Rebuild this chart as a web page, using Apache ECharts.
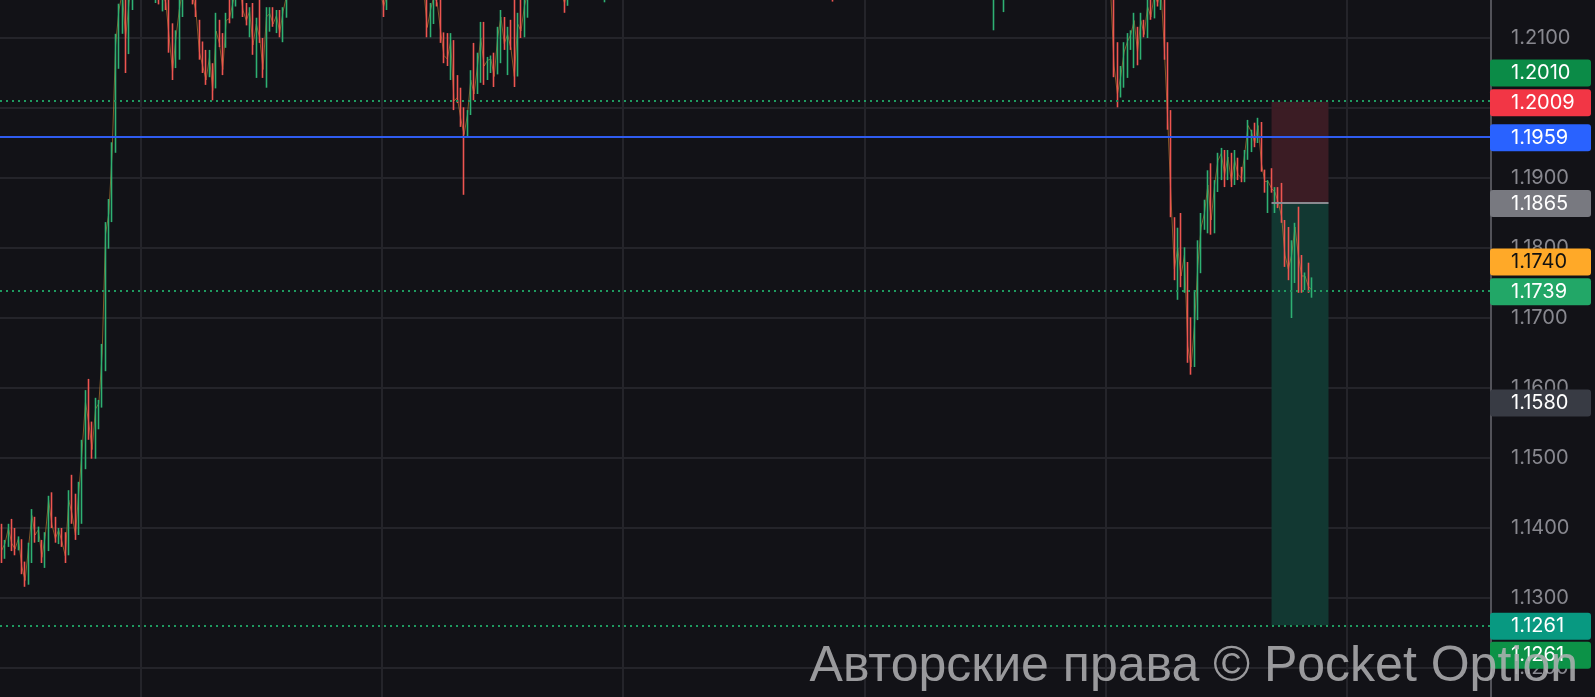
<!DOCTYPE html>
<html>
<head>
<meta charset="utf-8">
<title>EUR/USD</title>
<script src="https://cdn.jsdelivr.net/npm/echarts@6/dist/echarts.min.js"></script>
<style>
  html, body { margin: 0; padding: 0; background: #121217; overflow: hidden; width: 1595px; height: 697px; }
  /* the price frame runs from 1.2200 to 1.1100; the window shows the part between about 1.2154 and 1.1159 */
  #chart { position: absolute; left: 0; top: -32px; width: 1595px; height: 770px; }
</style>
</head>
<body>
<div id="chart"></div>
<script>
// Candles are [open, close, low, high]

// climb out of the 1.13-1.14 range
const climb = [
  [1.1398,1.1368,1.1350,1.1406],[1.1360,1.1378,1.1356,1.1383],[1.1375,1.1400,1.1373,1.1406],[1.1405,1.1378,1.1367,1.1413],
  [1.1392,1.1370,1.1361,1.1400],[1.1372,1.1385,1.1368,1.1388],[1.1380,1.1345,1.1334,1.1384],[1.1348,1.1325,1.1316,1.1352],
  [1.1327,1.1372,1.1319,1.1379],[1.1370,1.1418,1.1350,1.1427],[1.1415,1.1390,1.1379,1.1416],[1.1388,1.1398,1.1380,1.1402],
  [1.1380,1.1358,1.1350,1.1383],[1.1360,1.1388,1.1343,1.1394],[1.1386,1.1440,1.1367,1.1446],[1.1442,1.1405,1.1400,1.1451],
  [1.1408,1.1385,1.1379,1.1416],[1.1385,1.1397,1.1377,1.1400],[1.1396,1.1380,1.1373,1.1400],[1.1382,1.1360,1.1350,1.1394],
  [1.1362,1.1440,1.1361,1.1454],[1.1445,1.1420,1.1406,1.1476],[1.1422,1.1390,1.1383,1.1449],[1.1392,1.1450,1.1390,1.1466],
  [1.1448,1.1510,1.1406,1.1526],[1.1508,1.1580,1.1484,1.1597],[1.1582,1.1550,1.1526,1.1613],[1.1548,1.1512,1.1499,1.1552],
  [1.1512,1.1570,1.1499,1.1586],[1.1568,1.1578,1.1541,1.1583],[1.1576,1.1650,1.1572,1.1663],[1.1648,1.1820,1.1624,1.1837],
  [1.1818,1.1850,1.1799,1.1870],[1.1848,1.1940,1.1837,1.1951],[1.1938,1.2090,1.1936,1.2106],[1.2088,1.2140,1.2056,1.2149],
  [1.2138,1.2165,1.2106,1.2180],[1.2160,1.2100,1.2050,1.2175],[1.2100,1.2150,1.2077,1.2172]
];

// first stay above 1.20
const firstHigh = [
  [1.2150,1.2185,1.2140,1.2195],[1.2185,1.2170,1.2160,1.2200],[1.2172,1.2190,1.2158,1.2205],[1.2188,1.2175,1.2165,1.2198],
  [1.2176,1.2168,1.2158,1.2190],[1.2168,1.2182,1.2160,1.2192],[1.2180,1.2165,1.2156,1.2188],[1.2160,1.2172,1.2150,1.2180],
  [1.2170,1.2158,1.2148,1.2178],[1.2145,1.2165,1.2138,1.2175],[1.2162,1.2150,1.2140,1.2170],[1.2150,1.2100,1.2079,1.2158],
  [1.2115,1.2052,1.2040,1.2121],[1.2060,1.2100,1.2057,1.2111],[1.2098,1.2140,1.2069,1.2160],[1.2140,1.2168,1.2130,1.2180],
  [1.2166,1.2180,1.2158,1.2195],[1.2178,1.2170,1.2160,1.2190],[1.2170,1.2160,1.2148,1.2182],[1.2158,1.2138,1.2130,1.2165],
  [1.2124,1.2080,1.2069,1.2126],[1.2082,1.2060,1.2050,1.2095],[1.2072,1.2040,1.2033,1.2083],[1.2045,1.2072,1.2044,1.2083],
  [1.2062,1.2025,1.2011,1.2064],[1.2030,1.2110,1.2028,1.2136],[1.2118,1.2092,1.2087,1.2126],[1.2095,1.2055,1.2047,1.2107],
  [1.2090,1.2125,1.2086,1.2136],[1.2140,1.2128,1.2121,1.2160],[1.2130,1.2150,1.2128,1.2170],[1.2150,1.2170,1.2145,1.2182],
  [1.2168,1.2178,1.2158,1.2190],[1.2176,1.2140,1.2130,1.2185],[1.2142,1.2125,1.2118,1.2150],[1.2110,1.2138,1.2101,1.2144],
  [1.2140,1.2090,1.2076,1.2150],[1.2075,1.2120,1.2043,1.2129],[1.2120,1.2100,1.2093,1.2158],[1.2098,1.2055,1.2043,1.2100],
  [1.2055,1.2130,1.2029,1.2144],[1.2115,1.2135,1.2109,1.2144],[1.2138,1.2120,1.2116,1.2144],[1.2112,1.2132,1.2107,1.2140],
  [1.2135,1.2108,1.2101,1.2140],[1.2105,1.2138,1.2094,1.2144],[1.2135,1.2160,1.2129,1.2170]
];

// trading above the visible range, with a brief dip
const aboveRange1 = [
  [1.2160,1.2178,1.2158,1.2186],[1.2178,1.2192,1.2170,1.2201],[1.2192,1.2184,1.2175,1.2203],[1.2184,1.2203,1.2179,1.2212],
  [1.2203,1.2215,1.2194,1.2226],[1.2215,1.2207,1.2196,1.2224],[1.2207,1.2226,1.2201,1.2235],[1.2226,1.2219,1.2208,1.2238],
  [1.2219,1.2234,1.2212,1.2243],[1.2234,1.2222,1.2213,1.2240],[1.2222,1.2210,1.2199,1.2229],[1.2210,1.2224,1.2203,1.2231],
  [1.2224,1.2238,1.2218,1.2249],[1.2238,1.2229,1.2220,1.2246],[1.2229,1.2214,1.2205,1.2233],[1.2214,1.2202,1.2193,1.2220],
  [1.2202,1.2216,1.2196,1.2224],[1.2216,1.2205,1.2197,1.2222],[1.2205,1.2192,1.2184,1.2211],[1.2192,1.2204,1.2186,1.2212],
  [1.2204,1.2196,1.2187,1.2210],[1.2196,1.2183,1.2175,1.2201],[1.2183,1.2191,1.2176,1.2198],[1.2191,1.2180,1.2171,1.2195],
  [1.2180,1.2187,1.2172,1.2194],[1.2187,1.2176,1.2168,1.2192],[1.2176,1.2170,1.2162,1.2183],[1.2170,1.2166,1.2159,1.2178],
  [1.2166,1.2145,1.2130,1.2172],[1.2146,1.2162,1.2140,1.2170],
  [1.2162,1.2175,1.2158,1.2184],[1.2175,1.2188,1.2169,1.2196],[1.2188,1.2181,1.2172,1.2197],[1.2181,1.2195,1.2176,1.2203],
  [1.2195,1.2186,1.2178,1.2201],[1.2186,1.2199,1.2181,1.2207],[1.2199,1.2190,1.2182,1.2206],[1.2190,1.2182,1.2174,1.2197],
  [1.2182,1.2189,1.2175,1.2195],[1.2189,1.2178,1.2170,1.2193],[1.2178,1.2168,1.2161,1.2184]
];

// pullback to the 1.1959 line and recovery
const secondDip = [
  [1.2168,1.2115,1.2101,1.2172],[1.2115,1.2140,1.2101,1.2150],[1.2140,1.2160,1.2120,1.2170],[1.2160,1.2150,1.2145,1.2175],
  [1.2150,1.2110,1.2093,1.2165],[1.2105,1.2075,1.2064,1.2108],[1.2100,1.2070,1.2060,1.2107],[1.2055,1.2095,1.2040,1.2107],
  [1.2095,1.2010,1.1997,1.2097],[1.2040,1.2015,1.2007,1.2047],[1.2015,1.1985,1.1973,1.2029],[1.1995,1.1962,1.1876,1.2001],
  [1.1960,1.1990,1.1959,1.1997],[1.1990,1.2040,1.1990,1.2054],[1.2060,1.2020,1.2011,1.2093],[1.2025,1.2060,1.2020,1.2079],
  [1.2045,1.2100,1.2036,1.2123],[1.2105,1.2060,1.2033,1.2123],[1.2050,1.2068,1.2040,1.2073],[1.2055,1.2070,1.2050,1.2075],
  [1.2075,1.2045,1.2030,1.2079],[1.2050,1.2100,1.2048,1.2116],[1.2085,1.2130,1.2064,1.2140],[1.2125,1.2092,1.2083,1.2130],
  [1.2060,1.2105,1.2047,1.2116],[1.2110,1.2085,1.2083,1.2126],[1.2125,1.2045,1.2030,1.2155],[1.2060,1.2120,1.2045,1.2136],
  [1.2130,1.2110,1.2100,1.2160],[1.2105,1.2145,1.2101,1.2165],[1.2140,1.2165,1.2129,1.2175]
];

// long stretch above the visible range
const aboveRange2 = [
  [1.2165,1.2178,1.2159,1.2186],[1.2178,1.2190,1.2171,1.2198],[1.2190,1.2182,1.2174,1.2197],[1.2182,1.2196,1.2177,1.2204],
  [1.2196,1.2188,1.2180,1.2203],[1.2188,1.2201,1.2183,1.2209],[1.2201,1.2192,1.2184,1.2207],[1.2192,1.2180,1.2172,1.2198],
  [1.2180,1.2171,1.2163,1.2186],[1.2171,1.2164,1.2158,1.2178],[1.2164,1.2150,1.2136,1.2170],[1.2150,1.2172,1.2146,1.2180],
  [1.2172,1.2186,1.2166,1.2193],[1.2186,1.2199,1.2180,1.2207],[1.2199,1.2191,1.2183,1.2206],[1.2191,1.2205,1.2186,1.2213],
  [1.2205,1.2196,1.2188,1.2211],[1.2196,1.2184,1.2176,1.2201],[1.2184,1.2176,1.2168,1.2190],[1.2176,1.2185,1.2169,1.2192],
  [1.2185,1.2174,1.2166,1.2190],[1.2174,1.2165,1.2158,1.2180],[1.2165,1.2172,1.2151,1.2179],[1.2172,1.2188,1.2167,1.2195],
  [1.2188,1.2203,1.2182,1.2211],[1.2203,1.2217,1.2197,1.2225],[1.2217,1.2209,1.2200,1.2224],[1.2209,1.2224,1.2203,1.2232],
  [1.2224,1.2238,1.2218,1.2246],[1.2238,1.2230,1.2221,1.2245],[1.2230,1.2245,1.2225,1.2253],[1.2245,1.2259,1.2239,1.2267],
  [1.2259,1.2250,1.2241,1.2265],[1.2250,1.2264,1.2244,1.2272],[1.2264,1.2277,1.2258,1.2286],[1.2277,1.2268,1.2259,1.2284],
  [1.2268,1.2256,1.2247,1.2273],[1.2256,1.2265,1.2249,1.2272],[1.2265,1.2279,1.2259,1.2287],[1.2279,1.2291,1.2273,1.2300],
  [1.2291,1.2283,1.2274,1.2298],[1.2283,1.2270,1.2262,1.2289],[1.2270,1.2258,1.2249,1.2276],[1.2258,1.2266,1.2251,1.2273],
  [1.2266,1.2254,1.2246,1.2271],[1.2254,1.2241,1.2233,1.2260],[1.2241,1.2250,1.2234,1.2257],[1.2250,1.2263,1.2244,1.2271],
  [1.2263,1.2255,1.2247,1.2270],[1.2255,1.2243,1.2235,1.2261],[1.2243,1.2230,1.2222,1.2249],[1.2230,1.2238,1.2223,1.2245],
  [1.2238,1.2226,1.2218,1.2243],[1.2226,1.2214,1.2206,1.2232],[1.2214,1.2223,1.2207,1.2230],[1.2223,1.2236,1.2217,1.2244],
  [1.2236,1.2248,1.2230,1.2256],[1.2248,1.2240,1.2232,1.2254],[1.2240,1.2253,1.2234,1.2261],[1.2253,1.2265,1.2247,1.2273],
  [1.2265,1.2257,1.2249,1.2271],[1.2257,1.2245,1.2237,1.2263],[1.2245,1.2233,1.2225,1.2251],[1.2233,1.2241,1.2226,1.2248],
  [1.2241,1.2229,1.2221,1.2246],[1.2229,1.2217,1.2209,1.2235],[1.2217,1.2206,1.2198,1.2223],[1.2206,1.2214,1.2199,1.2221],
  [1.2214,1.2203,1.2195,1.2219],[1.2203,1.2192,1.2184,1.2209],[1.2192,1.2201,1.2185,1.2208],[1.2201,1.2213,1.2195,1.2221],
  [1.2213,1.2205,1.2197,1.2219],[1.2205,1.2218,1.2199,1.2226],[1.2218,1.2210,1.2202,1.2224],[1.2210,1.2198,1.2190,1.2216],
  [1.2198,1.2187,1.2179,1.2204],[1.2187,1.2195,1.2180,1.2202],[1.2195,1.2184,1.2176,1.2200],[1.2184,1.2192,1.2177,1.2199],
  [1.2192,1.2204,1.2186,1.2212],[1.2204,1.2196,1.2188,1.2210],[1.2196,1.2185,1.2177,1.2202],[1.2185,1.2193,1.2178,1.2200],
  [1.2193,1.2182,1.2174,1.2198],[1.2182,1.2174,1.2167,1.2188],[1.2174,1.2181,1.2168,1.2188],[1.2181,1.2172,1.2165,1.2186],
  [1.2172,1.2166,1.2160,1.2178],[1.2166,1.2175,1.2160,1.2182],[1.2175,1.2163,1.2152,1.2180],[1.2163,1.2178,1.2158,1.2185],
  [1.2178,1.2191,1.2172,1.2199],[1.2191,1.2183,1.2175,1.2197],[1.2183,1.2196,1.2178,1.2204],[1.2196,1.2208,1.2190,1.2216],
  [1.2208,1.2200,1.2192,1.2214],[1.2200,1.2213,1.2194,1.2221],[1.2213,1.2225,1.2207,1.2233],[1.2225,1.2217,1.2209,1.2231],
  [1.2217,1.2205,1.2197,1.2223],[1.2205,1.2214,1.2198,1.2221],[1.2214,1.2226,1.2208,1.2234],[1.2226,1.2238,1.2220,1.2246],
  [1.2238,1.2230,1.2222,1.2244],[1.2230,1.2243,1.2224,1.2251],[1.2243,1.2235,1.2227,1.2249],[1.2235,1.2223,1.2215,1.2241],
  [1.2223,1.2211,1.2203,1.2229],[1.2211,1.2220,1.2204,1.2227],[1.2220,1.2232,1.2214,1.2240],[1.2232,1.2224,1.2216,1.2238],
  [1.2224,1.2212,1.2204,1.2230],[1.2212,1.2200,1.2192,1.2218],[1.2200,1.2209,1.2193,1.2216],[1.2209,1.2221,1.2203,1.2229],
  [1.2221,1.2213,1.2205,1.2227],[1.2213,1.2201,1.2193,1.2219],[1.2201,1.2190,1.2182,1.2207],[1.2190,1.2198,1.2183,1.2205],
  [1.2198,1.2187,1.2179,1.2203],[1.2187,1.2195,1.2180,1.2202],[1.2195,1.2207,1.2189,1.2215],[1.2207,1.2199,1.2191,1.2213],
  [1.2199,1.2188,1.2180,1.2205],[1.2188,1.2196,1.2181,1.2203],[1.2196,1.2185,1.2177,1.2201],[1.2185,1.2176,1.2169,1.2191],
  [1.2176,1.2184,1.2170,1.2191],[1.2184,1.2193,1.2178,1.2200],[1.2193,1.2185,1.2177,1.2199],[1.2185,1.2177,1.2170,1.2191],
  [1.2177,1.2184,1.2171,1.2190],[1.2184,1.2175,1.2168,1.2189],[1.2175,1.2168,1.2162,1.2181],[1.2168,1.2174,1.2163,1.2180],
  [1.2174,1.2166,1.2160,1.2179],[1.2166,1.2160,1.2158,1.2172],[1.2145,1.2168,1.2111,1.2175],[1.2168,1.2175,1.2160,1.2183],
  [1.2175,1.2166,1.2159,1.2180],[1.2160,1.2172,1.2137,1.2178],[1.2172,1.2185,1.2166,1.2192],[1.2185,1.2197,1.2179,1.2205],
  [1.2197,1.2189,1.2181,1.2203],[1.2189,1.2202,1.2184,1.2210],[1.2202,1.2214,1.2196,1.2222],[1.2214,1.2206,1.2198,1.2220],
  [1.2206,1.2219,1.2200,1.2227],[1.2219,1.2231,1.2213,1.2239],[1.2231,1.2223,1.2215,1.2237],[1.2223,1.2211,1.2203,1.2229],
  [1.2211,1.2220,1.2204,1.2227],[1.2220,1.2232,1.2214,1.2240],[1.2232,1.2244,1.2226,1.2252],[1.2244,1.2236,1.2228,1.2250],
  [1.2236,1.2224,1.2216,1.2242],[1.2224,1.2233,1.2217,1.2240],[1.2233,1.2221,1.2213,1.2239],[1.2221,1.2209,1.2201,1.2227],
  [1.2209,1.2218,1.2202,1.2225],[1.2218,1.2206,1.2198,1.2224],[1.2206,1.2195,1.2187,1.2212],[1.2195,1.2203,1.2188,1.2210],
  [1.2203,1.2192,1.2184,1.2208],[1.2192,1.2200,1.2185,1.2207],[1.2200,1.2211,1.2194,1.2219],[1.2211,1.2203,1.2195,1.2217],
  [1.2203,1.2191,1.2183,1.2209],[1.2191,1.2199,1.2184,1.2206],[1.2199,1.2188,1.2180,1.2204],[1.2188,1.2180,1.2172,1.2194],
  [1.2180,1.2175,1.2166,1.2186],[1.2175,1.2165,1.2158,1.2181]
];

// sell-off, rebound and renewed decline
const selloff = [
  [1.2165,1.2060,1.2044,1.2175],[1.2070,1.2020,1.2001,1.2094],[1.2020,1.2045,1.2015,1.2060],[1.2040,1.2080,1.2029,1.2094],
  [1.2078,1.2095,1.2043,1.2107],[1.2090,1.2105,1.2083,1.2111],[1.2085,1.2125,1.2057,1.2136],[1.2112,1.2080,1.2061,1.2116],
  [1.2082,1.2125,1.2069,1.2136],[1.2125,1.2105,1.2101,1.2126],[1.2108,1.2145,1.2100,1.2160],[1.2150,1.2130,1.2126,1.2170],
  [1.2135,1.2162,1.2128,1.2175],[1.2165,1.2150,1.2145,1.2178],[1.2150,1.2168,1.2140,1.2180],[1.2168,1.2085,1.2069,1.2175],
  [1.2085,1.1985,1.1969,1.2094],[1.1985,1.1870,1.1844,1.1997],[1.1840,1.1770,1.1754,1.1844],[1.1760,1.1800,1.1726,1.1829],
  [1.1805,1.1760,1.1744,1.1850],[1.1750,1.1790,1.1736,1.1801],[1.1778,1.1660,1.1636,1.1780],[1.1662,1.1630,1.1619,1.1701],
  [1.1632,1.1690,1.1630,1.1740],[1.1700,1.1775,1.1697,1.1811],[1.1770,1.1830,1.1764,1.1850],[1.1830,1.1850,1.1826,1.1869],
  [1.1840,1.1890,1.1821,1.1911],[1.1895,1.1840,1.1819,1.1921],[1.1840,1.1890,1.1821,1.1897],[1.1885,1.1925,1.1880,1.1936],
  [1.1910,1.1935,1.1897,1.1943],[1.1935,1.1905,1.1887,1.1940],[1.1900,1.1930,1.1897,1.1940],[1.1930,1.1895,1.1887,1.1936],
  [1.1895,1.1925,1.1890,1.1940],[1.1925,1.1905,1.1897,1.1929],[1.1910,1.1900,1.1894,1.1916],[1.1900,1.1935,1.1894,1.1940],
  [1.1932,1.1975,1.1926,1.1983],[1.1955,1.1966,1.1937,1.1969],[1.1975,1.1950,1.1944,1.1979],[1.1950,1.1975,1.1950,1.1986],
  [1.1975,1.1920,1.1909,1.1980],[1.1910,1.1895,1.1879,1.1912],[1.1870,1.1895,1.1850,1.1897],[1.1905,1.1885,1.1879,1.1914],
  [1.1860,1.1880,1.1850,1.1887],[1.1880,1.1865,1.1857,1.1887],[1.1893,1.1845,1.1836,1.1893],[1.1840,1.1790,1.1773,1.1840],
  [1.1800,1.1770,1.1754,1.1830],[1.1760,1.1790,1.1700,1.1811],[1.1785,1.1830,1.1750,1.1836],[1.1835,1.1790,1.1736,1.1859],
  [1.1790,1.1760,1.1736,1.1790],[1.1745,1.1760,1.1740,1.1765],[1.1765,1.1745,1.1736,1.1779],[1.1735,1.1740,1.1729,1.1758]
];

// horizontal levels
const dottedLevels = [1.2010, 1.1739, 1.1261];
const trendLevel = 1.1959;

// short position: stop, entry, target and the slots it spans
const positionSlots = [379, 396];
const positionStop = 1.2009;
const positionEntry = 1.1865;
const positionTarget = 1.1261;

// price tags on the axis
const tagPrices = [1.2010, 1.2009, 1.1959, 1.1865, 1.1740, 1.1739, 1.1580, 1.1261, 1.1261];

// price scale
const priceMin = 1.11;
const priceMax = 1.22;
const priceStep = 0.01;

const slotCount = 445;

const candles = climb.concat(firstHigh, aboveRange1, secondDip, aboveRange2, selloff);
const closes = candles.map(c => c[1]);
const slots = Array.from({ length: slotCount }, (_, i) => String(i));

// tag look: background, text colour, stacking shift in tag heights
const tagLook = [
  { bg: '#0b8b47', fg: '#ffffff', shift: -1 },
  { bg: '#f23645', fg: '#ffffff', shift: 0 },
  { bg: '#2962ff', fg: '#ffffff', shift: 0 },
  { bg: '#787980', fg: '#ffffff', shift: 0 },
  { bg: '#ffa928', fg: '#111111', shift: -1 },
  { bg: '#22a767', fg: '#ffffff', shift: 0 },
  { bg: '#383b44', fg: '#ffffff', shift: 0 },
  { bg: '#089981', fg: '#ffffff', shift: 0 },
  { bg: '#0c9247', fg: '#ffffff', shift: 1 }
];

const UP = '#2eb072';
const DOWN = '#ee5550';
const GRID = '#24242a';
const FRAME_OFFSET = 32; // the chart box starts this far above the window

const chart = echarts.init(document.getElementById('chart'), null, { renderer: 'canvas' });

const dotted = { color: '#1f9a60', width: 2, type: [2, 4] };

chart.setOption({
  backgroundColor: '#121217',
  animation: false,
  grid: { left: 0, right: 104, top: 0, bottom: 0, containLabel: false, outerBoundsMode: 'none' },
  xAxis: {
    type: 'category',
    data: slots,
    boundaryGap: true,
    axisLine: { show: false },
    axisTick: { show: false },
    axisLabel: { show: false },
    splitLine: {
      show: true,
      interval: (i) => i >= 42 && (i - 42) % 72 === 0,
      lineStyle: { color: GRID, width: 2 }
    }
  },
  yAxis: {
    type: 'value',
    position: 'right',
    min: priceMin,
    max: priceMax,
    interval: priceStep,
    z: 0,
    axisLine: { show: true, lineStyle: { color: '#62626a', width: 1.5 } },
    axisTick: { show: false },
    axisLabel: {
      margin: 20,
      color: '#88888f',
      fontFamily: 'Inter',
      fontSize: 20,
      formatter: (v) => v.toFixed(4)
    },
    splitLine: { show: true, lineStyle: { color: GRID, width: 2 } }
  },
  series: [
    {
      name: 'close path',
      type: 'line',
      data: closes,
      showSymbol: false,
      silent: true,
      z: 2,
      lineStyle: { color: 'rgba(208,136,50,0.6)', width: 1 },
      markArea: {
        silent: true,
        data: [
          [
            { xAxis: positionSlots[0], yAxis: positionStop, itemStyle: { color: '#3b1c24' } },
            { xAxis: positionSlots[1], yAxis: positionEntry }
          ],
          [
            { xAxis: positionSlots[0], yAxis: positionEntry, itemStyle: { color: '#123832' } },
            { xAxis: positionSlots[1], yAxis: positionTarget }
          ]
        ]
      },
      markLine: {
        silent: true,
        precision: 4,
        symbol: ['none', 'none'],
        label: { show: false },
        data: dottedLevels.map(v => ({ yAxis: v, lineStyle: dotted }))
          .concat([
            { yAxis: trendLevel, lineStyle: { color: '#2f5cf0', width: 2, type: 'solid' } },
            [
              { xAxis: positionSlots[0], yAxis: positionEntry, lineStyle: { color: '#8a8a90', width: 2, type: 'solid' } },
              { xAxis: positionSlots[1], yAxis: positionEntry }
            ]
          ])
      }
    },
    {
      name: 'EUR/USD',
      type: 'candlestick',
      data: candles,
      z: 3,
      barWidth: 0.6,
      clip: true,
      itemStyle: {
        color: UP,
        color0: DOWN,
        borderColor: UP,
        borderColor0: DOWN,
        borderWidth: 1.6
      }
    }
  ]
});

// axis price tags and the copyright line, on a layer above the axis labels
const TAG_H = 27;
const TAG_STEP = 29;
const graphics = [];
tagPrices.forEach((p, i) => {
  const y = chart.convertToPixel({ yAxisIndex: 0 }, p) + tagLook[i].shift * TAG_STEP + 1;
  graphics.push({
    type: 'rect',
    zlevel: 2,
    z: 50 + 2 * i,
    shape: { x: 1490, y: y - TAG_H / 2, width: 101, height: TAG_H, r: 3 },
    style: { fill: tagLook[i].bg }
  });
  graphics.push({
    type: 'text',
    zlevel: 2,
    z: 51 + 2 * i,
    style: {
      x: 1511,
      y: y,
      text: p.toFixed(4),
      fill: tagLook[i].fg,
      font: '20px Inter',
      textVerticalAlign: 'middle'
    }
  });
});

graphics.push({
  type: 'text',
  zlevel: 2,
  z: 100,
  style: {
    x: 1578,
    y: 692 + FRAME_OFFSET,
    text: 'Авторские права © Pocket Option',
    fill: 'rgba(178,178,180,0.85)',
    font: '50px "Liberation Sans", Arial, sans-serif',
    textAlign: 'right',
    textVerticalAlign: 'bottom'
  }
});

chart.setOption({ graphic: graphics });
</script>
</body>
</html>
